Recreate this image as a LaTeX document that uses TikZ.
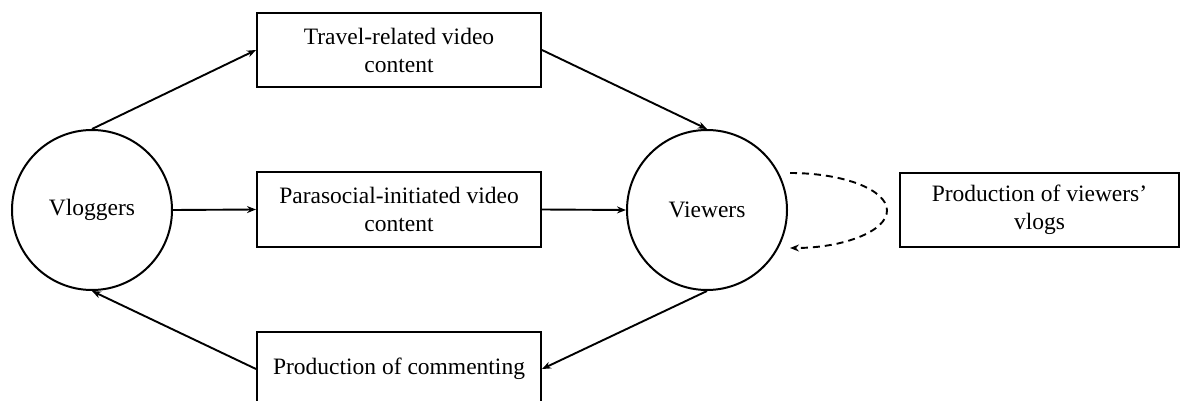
\documentclass[tikz,border=0pt]{standalone}
\usepackage{fontspec}
\setmainfont{Liberation Serif}
\usetikzlibrary{arrows.meta}
\begin{document}
\begin{tikzpicture}[x=1pt,y=-1pt,
  every node/.style={font=\fontsize{23.5}{28}\selectfont, align=center, line width=2pt},
  agent/.style={draw, circle, minimum size=160pt, inner sep=0pt},
  box/.style={draw, rectangle, minimum width=284pt, minimum height=74pt, inner sep=0pt},
  link/.style={line width=1.9pt, -{Stealth[length=9pt,width=7pt]}},
  loop/.style={line width=1.9pt, dashed, dash pattern=on 7pt off 5pt, -{Stealth[length=9pt,width=7pt]}}]
  \clip (0,0) rectangle (1181,401);
  \fill[white] (0,0) rectangle (1181,401);

  % actors
  \node[agent] (vloggers) at (92,210) {Vloggers};
  \node[agent] (viewers) at (707,210) {Viewers};

  % content boxes
  \node[box] (travel) at (399,50) {Travel-related video\\content};
  \node[box] (para) at (399,209.5) {Parasocial-initiated video\\content};
  \node[box] (comment) at (399,369) {Production of commenting};
  \node[box, minimum width=279pt] (vlogs) at (1039.5,210) {Production of viewers’\\vlogs};

  % flows
  \draw[link] (vloggers.north) -- (travel.west);
  \draw[link] (travel.east) -- (viewers.north);
  \draw[link] (vloggers.east) -- (para.west);
  \draw[link] (para.east) -- (viewers.west);
  \draw[link] (viewers.south) -- (comment.east);
  \draw[link] (comment.west) -- (vloggers.south);

  % feedback loop
  \coordinate (loopstart) at (790,173);
  \draw[loop] (loopstart) arc[start angle=-90, end angle=90, x radius=97, y radius=37.5];
\end{tikzpicture}
\end{document}
